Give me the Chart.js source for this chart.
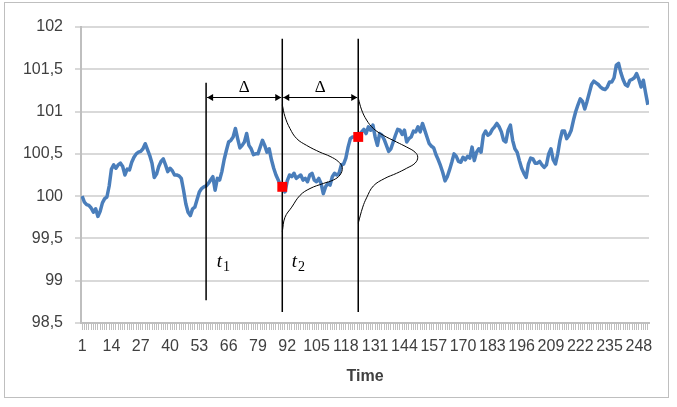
<!DOCTYPE html>
<html>
<head>
<meta charset="utf-8">
<script src="https://cdn.jsdelivr.net/npm/chart.js@4.4.1/dist/chart.umd.min.js"></script>
<style>
  html, body { margin: 0; padding: 0; background: #fff; }
</style>
</head>
<body>
<canvas id="priceChart" width="677" height="407"></canvas>
<script>
// price path, one value per time step (1..252)
const prices = [
  100.00, 99.93, 99.90, 99.89, 99.86, 99.81, 99.85, 99.76, 99.82, 99.92,
  99.97, 99.99, 100.12, 100.32, 100.37, 100.33, 100.37, 100.39, 100.35, 100.25,
  100.32, 100.31, 100.40, 100.46, 100.50, 100.52, 100.53, 100.56, 100.62, 100.55,
  100.48, 100.39, 100.22, 100.26, 100.35, 100.41, 100.44, 100.37, 100.29, 100.33,
  100.30, 100.25, 100.25, 100.24, 100.21, 100.07, 99.91, 99.81, 99.77, 99.85,
  99.87, 99.96, 100.05, 100.09, 100.11, 100.12, 100.15, 100.19, 100.23, 100.07,
  100.21, 100.19, 100.29, 100.43, 100.54, 100.64, 100.66, 100.70, 100.80, 100.68,
  100.57, 100.60, 100.64, 100.74, 100.60, 100.56, 100.49, 100.50, 100.50, 100.58,
  100.66, 100.60, 100.52, 100.56, 100.43, 100.33, 100.25, 100.19, 100.13, 100.09,
  100.05, 100.18, 100.25, 100.23, 100.27, 100.21, 100.23, 100.25, 100.19, 100.21,
  100.17, 100.25, 100.27, 100.19, 100.17, 100.21, 100.15, 100.03, 100.11, 100.15,
  100.13, 100.23, 100.27, 100.25, 100.27, 100.37, 100.38, 100.45, 100.58, 100.68,
  100.70, 100.70, 100.70, 100.73, 100.76, 100.79, 100.74, 100.82, 100.78, 100.84,
  100.70, 100.60, 100.74, 100.72, 100.67, 100.60, 100.53, 100.56, 100.64, 100.72,
  100.79, 100.78, 100.73, 100.78, 100.64, 100.68, 100.70, 100.77, 100.76, 100.82,
  100.76, 100.86, 100.78, 100.70, 100.62, 100.59, 100.57, 100.49, 100.43, 100.36,
  100.28, 100.18, 100.23, 100.31, 100.40, 100.50, 100.47, 100.41, 100.40, 100.46,
  100.43, 100.47, 100.45, 100.58, 100.42, 100.52, 100.56, 100.52, 100.72, 100.77,
  100.72, 100.74, 100.79, 100.82, 100.86, 100.82, 100.76, 100.66, 100.64, 100.78,
  100.84, 100.66, 100.56, 100.52, 100.42, 100.33, 100.27, 100.22, 100.38, 100.45,
  100.44, 100.39, 100.39, 100.41, 100.37, 100.34, 100.37, 100.50, 100.56, 100.43,
  100.38, 100.50, 100.66, 100.77, 100.77, 100.68, 100.72, 100.78, 100.90, 101.00,
  101.08, 101.15, 101.12, 101.03, 101.12, 101.22, 101.32, 101.36, 101.34, 101.32,
  101.29, 101.27, 101.26, 101.29, 101.35, 101.35, 101.40, 101.55, 101.57, 101.46,
  101.38, 101.32, 101.30, 101.37, 101.38, 101.40, 101.45, 101.38, 101.29, 101.37,
  101.22, 101.08
];

const xTickLabels = [1, 14, 27, 40, 53, 66, 79, 92, 105, 118, 131, 144, 157, 170, 183, 196, 209, 222, 235, 248];
const yTickValues = [98.5, 99, 99.5, 100, 100.5, 101, 101.5, 102];

// the three marked times (t1, t2, t2 + delta) and how far their lines reach
const tMarks = [56, 89.8, 123.5];
const tTops = [101.34, 101.86, 101.86];
const tBottoms = [98.77, 98.63, 98.63];

// red points on the path
const markerTimes = [89.8, 123.5];
const markerValues = [100.11, 100.70];

// bell curves drawn sideways from t2 and t3: level and width in time steps
const bell1Levels = [101.08, 100.94, 100.80, 100.68, 100.60, 100.52, 100.47, 100.41, 100.34, 100.25, 100.19, 100.15, 100.09, 100.01, 99.87, 99.75, 99.58];
const bell1Widths = [0, 1.2, 3.4, 6.4, 10.8, 16.7, 21.2, 24.8, 26.6, 25.6, 22.6, 18.2, 12.3, 7.9, 4.2, 1.2, 0];
const bell2Levels = [101.16, 101.02, 100.90, 100.80, 100.72, 100.64, 100.58, 100.52, 100.46, 100.39, 100.33, 100.27, 100.21, 100.12, 99.98, 99.87, 99.68];
const bell2Widths = [0, 1.5, 3.7, 6.7, 11.1, 17.0, 21.5, 25.2, 26.4, 25.2, 21.5, 17.0, 11.8, 6.7, 3.7, 2.0, 0];

const arrowLevel = 101.17;
const deltaLevel = 101.23;
const tLabelNames = ['1', '2'];
const tLabelTimes = [60.7, 94.0];
const tLabelLevel = 99.16;

const textColor = '#404040';
const fontFamily = '"Liberation Sans", Arial, sans-serif';

const overlay = {
    id: 'overlay',
    beforeDraw(chart) {
        const ctx = chart.ctx;
        ctx.save();
        ctx.strokeStyle = '#bfbfbf';
        ctx.lineWidth = 1;
        ctx.strokeRect(4.5, 2.5, 664, 395);
        ctx.restore();
    },
    afterDatasetsDraw(chart) {
        const { ctx, scales: { x, y } } = chart;
        ctx.save();
        ctx.strokeStyle = '#000';
        ctx.fillStyle = '#000';
        ctx.lineWidth = 1;
        const ay = Math.round(y.getPixelForValue(arrowLevel)) + 0.5;
        for (let k = 0; k < tMarks.length - 1; k++) {
            const xa = x.getPixelForValue(tMarks[k]) + 1;
            const xb = x.getPixelForValue(tMarks[k + 1]) - 1;
            ctx.beginPath();
            ctx.moveTo(xa, ay);
            ctx.lineTo(xb, ay);
            ctx.stroke();
            ctx.beginPath();
            ctx.moveTo(xa, ay);
            ctx.lineTo(xa + 6, ay - 3.5);
            ctx.lineTo(xa + 6, ay + 3.5);
            ctx.closePath();
            ctx.fill();
            ctx.beginPath();
            ctx.moveTo(xb, ay);
            ctx.lineTo(xb - 6, ay - 3.5);
            ctx.lineTo(xb - 6, ay + 3.5);
            ctx.closePath();
            ctx.fill();

            ctx.font = '17px "Liberation Serif", serif';
            ctx.textAlign = 'center';
            ctx.textBaseline = 'alphabetic';
            ctx.fillText('Δ', (xa + xb) / 2, y.getPixelForValue(deltaLevel));
        }

        ctx.textAlign = 'left';
        ctx.textBaseline = 'alphabetic';
        tLabelNames.forEach((name, i) => {
            const lx = x.getPixelForValue(tLabelTimes[i]);
            const ly = y.getPixelForValue(tLabelLevel);
            ctx.font = 'italic 19px "Liberation Serif", serif';
            ctx.fillText('t', lx, ly);
            const w = ctx.measureText('t').width;
            ctx.font = '14px "Liberation Serif", serif';
            ctx.fillText(name, lx + w + 1, ly + 4);
        });
        ctx.restore();
    }
};

const datasets = [
    {
        label: 'Marked points',
        data: markerTimes.map((t, i) => ({ x: t, y: markerValues[i] })),
        showLine: false,
        pointStyle: 'rect',
        pointRadius: 7,
        backgroundColor: '#ff0000',
        borderColor: '#ff0000',
        borderWidth: 0
    },
    {
        label: 'Bell t2',
        data: bell1Levels.map((v, i) => ({ x: tMarks[1] + bell1Widths[i], y: v })),
        borderColor: '#000',
        borderWidth: 1,
        pointRadius: 0,
        tension: 0.4
    },
    {
        label: 'Bell t3',
        data: bell2Levels.map((v, i) => ({ x: tMarks[2] + bell2Widths[i], y: v })),
        borderColor: '#000',
        borderWidth: 1,
        pointRadius: 0,
        tension: 0.4
    }
];

tMarks.forEach((t, i) => {
    datasets.push({
        label: 'Mark ' + (i + 1),
        data: [{ x: t, y: tTops[i] }, { x: t, y: tBottoms[i] }],
        borderColor: '#000',
        borderWidth: 1.5,
        pointRadius: 0
    });
});

datasets.push({
    label: 'Price',
    data: prices.map((p, i) => ({ x: i + 1, y: p })),
    borderColor: '#4a7ebb',
    borderWidth: 3.5,
    borderJoinStyle: 'round',
    pointRadius: 0,
    tension: 0
});

new Chart(document.getElementById('priceChart').getContext('2d'), {
    type: 'line',
    data: { datasets: datasets },
    options: {
        responsive: false,
        animation: false,
        layout: { padding: { left: 0, right: 28, top: 27, bottom: 17 } },
        plugins: {
            legend: { display: false },
            tooltip: { enabled: false }
        },
        scales: {
            x: {
                type: 'linear',
                min: 0.5,
                max: prices.length + 0.5,
                afterBuildTicks: scale => {
                    scale.ticks = prices.map((p, i) => ({ value: i + 1 }));
                },
                afterFit: scale => { scale.height = 67; },
                ticks: {
                    autoSkip: false,
                    maxRotation: 0,
                    minRotation: 0,
                    padding: 7,
                    color: textColor,
                    font: { family: fontFamily, size: 16 },
                    callback: v => xTickLabels.includes(v) ? String(v) : ''
                },
                grid: {
                    drawOnChartArea: false,
                    color: '#bfbfbf',
                    lineWidth: 1,
                    tickLength: 7
                },
                border: { display: true, color: '#bfbfbf', width: 2 },
                title: {
                    display: true,
                    text: 'Time',
                    color: textColor,
                    font: { family: fontFamily, size: 16, weight: 'bold' },
                    padding: { top: 4, bottom: 4 }
                }
            },
            y: {
                min: 98.5,
                max: 102,
                afterBuildTicks: scale => {
                    scale.ticks = yTickValues.map(v => ({ value: v }));
                },
                afterFit: scale => { scale.width = 81; },
                ticks: {
                    padding: 12,
                    color: textColor,
                    font: { family: fontFamily, size: 16 },
                    callback: v => String(v).replace('.', ',')
                },
                grid: { color: '#d9d9d9', lineWidth: 2, tickLength: 6 },
                border: { display: true, color: '#bfbfbf', width: 2 }
            }
        }
    },
    plugins: [overlay]
});
</script>
</body>
</html>
